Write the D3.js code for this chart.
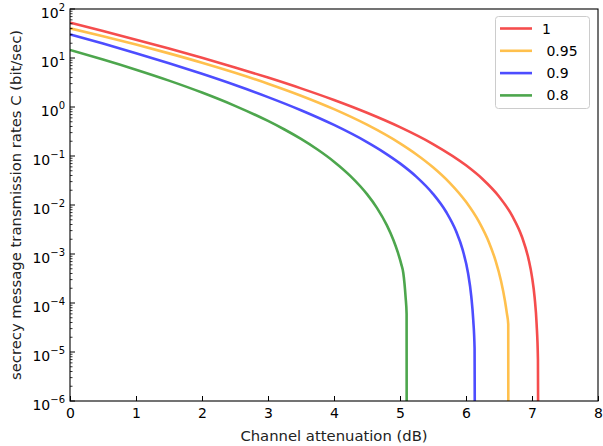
<!DOCTYPE html>
<html>
<head>
<meta charset="utf-8">
<script src="https://cdn.jsdelivr.net/npm/d3@7"></script>
<style>
  html, body { margin: 0; padding: 0; background: #fff; }
  svg { display: block; font-family: "DejaVu Sans", sans-serif; }
</style>
</head>
<body>
<svg id="chart" width="603" height="446"></svg>
<script>
// ---- data ----
const seriesNames = ["1", " 0.95", " 0.9", " 0.8"];
const seriesColors = ["#f54d4d", "#ffc04d", "#4d4dff", "#4da64d"];

const attRed  = [0, 0.5, 1, 1.5, 2, 2.5, 3, 3.5, 4, 4.5, 5, 5.5, 6, 6.25, 6.5, 6.7, 6.85, 6.95, 7.0, 7.04, 7.07, 7.09, 7.1];
const rateRed = [52.5, 35.45, 23.67, 15.59, 10.11, 6.425, 3.986, 2.399, 1.389, 0.7621, 0.3878, 0.1753, 0.06449, 0.03397, 0.01493, 0.006012, 0.002196, 7.66e-4, 3.42e-4, 1.284e-4, 3.70e-5, 7.10e-6, 1e-9];

const attOrange  = [0, 0.5, 1, 1.5, 2, 2.5, 3, 3.5, 4, 4.5, 5, 5.25, 5.5, 5.75, 6, 6.2, 6.35, 6.45, 6.53, 6.59, 6.62, 6.64, 6.643];
const rateOrange = [40.36, 27.80, 18.79, 12.43, 8.011, 4.996, 2.994, 1.703, 0.9039, 0.4355, 0.1812, 0.1076, 0.05895, 0.02870, 0.01159, 0.004452, 0.001695, 7.164e-4, 2.853e-4, 1.116e-4, 6.07e-5, 3.72e-5, 1e-9];

const attBlue  = [0, 0.5, 1, 1.5, 2, 2.5, 3, 3.5, 4, 4.5, 4.75, 5, 5.25, 5.5, 5.7, 5.85, 5.95, 6.03, 6.08, 6.11, 6.13, 6.14];
const rateBlue = [30.48, 19.68, 12.51, 7.797, 4.746, 2.803, 1.593, 0.8593, 0.4302, 0.1923, 0.1204, 0.07063, 0.03751, 0.01691, 0.007186, 0.002907, 0.001210, 4.13e-4, 1.366e-4, 4.46e-5, 1.174e-5, 1e-9];

const attGreen  = [0, 0.5, 1, 1.5, 2, 2.5, 3, 3.25, 3.5, 3.75, 4, 4.25, 4.5, 4.65, 4.8, 4.9, 4.97, 5.02, 5.05, 5.085, 5.10, 5.103];
const rateGreen = [14.55, 9.302, 5.773, 3.456, 1.972, 1.057, 0.5189, 0.3472, 0.2229, 0.1355, 0.07655, 0.03882, 0.01663, 0.00875, 0.003887, 0.001935, 0.00105, 6.14e-4, 4.1e-4, 1.3e-4, 6e-5, 1e-9];

const xTicks = [0, 1, 2, 3, 4, 5, 6, 7, 8];
const yExponents = [-6, -5, -4, -3, -2, -1, 0, 1, 2];

const xTitle = "Channel attenuation (dB)";
const yTitle = "secrecy message transmission rates C (bit/sec)";

// ---- layout ----
const svg = d3.select("#chart");
const pL = 70, pR = 598, pT = 9, pB = 401;

const x = d3.scaleLinear().domain([0, 8]).range([pL, pR]);
const y = d3.scaleLog().domain([1e-6, 1e2]).range([pB, pT]);

const series = [
  { xs: attRed, ys: rateRed },
  { xs: attOrange, ys: rateOrange },
  { xs: attBlue, ys: rateBlue },
  { xs: attGreen, ys: rateGreen }
].map((s, i) => ({ name: seriesNames[i], color: seriesColors[i],
                   pts: s.xs.map((v, j) => [v, s.ys[j]]) }));

svg.append("defs").append("clipPath").attr("id", "clip")
  .append("rect").attr("x", pL).attr("y", pT)
  .attr("width", pR - pL).attr("height", pB - pT);

const line = d3.line()
  .x(d => x(d[0]))
  .y(d => y(d[1]))
  .curve(d3.curveMonotoneX);

const g = svg.append("g").attr("clip-path", "url(#clip)");
series.forEach(s => {
  g.append("path")
    .attr("d", line(s.pts))
    .attr("fill", "none")
    .attr("stroke", s.color)
    .attr("stroke-width", 2.6)
    .attr("stroke-linejoin", "round")
    .attr("stroke-linecap", "butt");
});

// ---- axes (ticks pointing inward) ----
const xAxis = d3.axisBottom(x).tickValues(xTicks).tickSizeInner(-5).tickSizeOuter(0)
  .tickFormat(d3.format("d")).tickPadding(7);
const gx = svg.append("g").attr("transform", `translate(0,${pB})`).call(xAxis);
gx.select(".domain").remove();
gx.selectAll("text").attr("font-size", 14).attr("font-family", "DejaVu Sans").attr("fill", "#000");

const majorY = yExponents.map(e => Math.pow(10, e));
const minorY = [];
yExponents.slice(0, -1).forEach(e => {
  for (let k = 2; k <= 9; k++) minorY.push(k * Math.pow(10, e));
});

const gy = svg.append("g");
gy.selectAll("line.minor").data(minorY).join("line")
  .attr("class", "minor")
  .attr("x1", pL).attr("x2", pL + 2.5)
  .attr("y1", d => y(d)).attr("y2", d => y(d))
  .attr("stroke", "#000").attr("stroke-width", 0.8);
gy.selectAll("line.major").data(majorY).join("line")
  .attr("class", "major")
  .attr("x1", pL).attr("x2", pL + 5)
  .attr("y1", d => y(d)).attr("y2", d => y(d))
  .attr("stroke", "#000").attr("stroke-width", 1);

const labels = gy.selectAll("text.ylab").data(yExponents).join("text")
  .attr("class", "ylab")
  .attr("x", pL - 5)
  .attr("y", e => y(Math.pow(10, e)) + 8.5)
  .attr("text-anchor", "end")
  .attr("font-size", 14)
  .attr("fill", "#000");
labels.append("tspan").text("10");
labels.append("tspan")
  .attr("dy", -7)
  .attr("font-size", 10)
  .text(e => (e < 0 ? "\u2212" + Math.abs(e) : String(e)));

// frame
svg.append("rect").attr("x", pL).attr("y", pT)
  .attr("width", pR - pL).attr("height", pB - pT)
  .attr("fill", "none").attr("stroke", "#000").attr("stroke-width", 1.1);

// titles
svg.append("text").attr("x", (pL + pR) / 2).attr("y", 441)
  .attr("text-anchor", "middle").attr("font-size", 14.8).attr("fill", "#222")
  .text(xTitle);
svg.append("text")
  .attr("transform", `translate(21,${(pT + pB) / 2}) rotate(-90)`)
  .attr("text-anchor", "middle").attr("font-size", 14.8).attr("fill", "#222")
  .text(yTitle);

// ---- legend ----
const lg = svg.append("g");
lg.append("rect").attr("x", 495.5).attr("y", 16.5).attr("width", 94).attr("height", 92)
  .attr("rx", 3).attr("fill", "#fff").attr("fill-opacity", 0.8)
  .attr("stroke", "#cccccc").attr("stroke-width", 1);
series.forEach((s, i) => {
  const yy = 28.5 + i * 22.3;
  lg.append("line").attr("x1", 500).attr("x2", 532).attr("y1", yy).attr("y2", yy)
    .attr("stroke", s.color).attr("stroke-width", 2.6);
  lg.append("text").attr("x", 542).attr("y", yy + 5).attr("font-size", 14)
    .attr("fill", "#000").style("white-space", "pre").text(s.name);
});
</script>
</body>
</html>
